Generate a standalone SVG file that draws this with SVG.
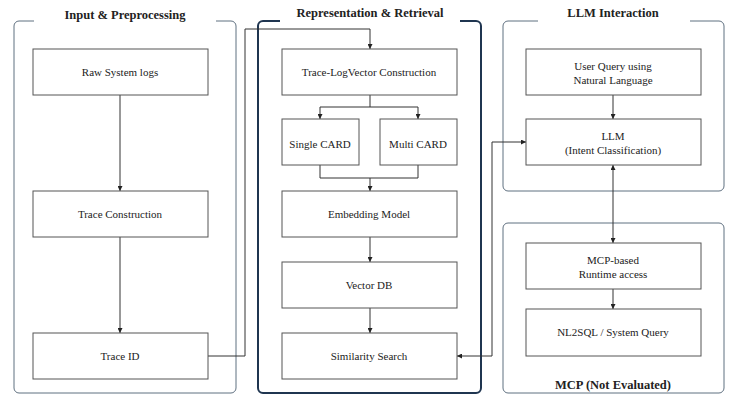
<svg xmlns="http://www.w3.org/2000/svg" width="733" height="403" viewBox="0 0 733 403">
<defs>
<marker id="ah" viewBox="0 0 8 8" refX="8" refY="4" markerWidth="5" markerHeight="5" orient="auto-start-reverse" markerUnits="userSpaceOnUse">
<path d="M0,0 L8,4 L0,8 z" fill="#222"/>
</marker>
<style>
.panel{fill:none;stroke:#5f7080;stroke-width:1}
.panel2{fill:none;stroke:#1f3550;stroke-width:2}
.box{fill:#fff;stroke:#555;stroke-width:1}
.t{font-family:"Liberation Serif","Times New Roman",serif;font-size:11px;fill:#222;text-anchor:middle}
.h{font-family:"Liberation Serif","Times New Roman",serif;font-size:12.5px;font-weight:bold;fill:#222;text-anchor:middle}
.c{fill:none;stroke:#333;stroke-width:1}
.ca{fill:none;stroke:#333;stroke-width:1;marker-end:url(#ah)}
.cb{fill:none;stroke:#333;stroke-width:1;marker-start:url(#ah);marker-end:url(#ah)}
</style>
</defs>
<rect width="733" height="403" fill="#fff"/>

<g id="panel-input">
<rect class="panel" x="14" y="21" width="222" height="372" rx="5"/>
<rect x="34" y="15" width="182" height="10" fill="#fff"/>
<text class="h" x="125" y="19">Input &amp; Preprocessing</text>
</g>
<g id="panel-repr">
<rect class="panel2" x="258" y="21" width="223" height="372" rx="5"/>
<rect x="280" y="15" width="180" height="10" fill="#fff"/>
<text class="h" x="370" y="17">Representation &amp; Retrieval</text>
</g>
<g id="panel-llm">
<rect class="panel" x="503" y="21" width="221" height="170" rx="5"/>
<rect x="538" y="15" width="152" height="10" fill="#fff"/>
<text class="h" x="613" y="17">LLM Interaction</text>
</g>
<g id="panel-mcp">
<rect class="panel" x="503" y="223" width="221" height="170" rx="5"/>
<text class="h" x="613" y="389">MCP (Not Evaluated)</text>
</g>

<g id="connectors">
<path class="ca" d="M120,95 V191"/>
<path class="ca" d="M120,237 V333"/>
<path class="ca" d="M208,356 H245 V29 H370 V49"/>
<path class="c" d="M370,95 V107"/>
<path class="ca" d="M320,107 V119"/>
<path class="ca" d="M418,107 V119"/>
<path class="c" d="M320,107 H418"/>
<path class="c" d="M320,165 V178 H418 V165"/>
<path class="ca" d="M370,178 V191"/>
<path class="ca" d="M370,237 V262"/>
<path class="ca" d="M370,308 V333"/>
<path class="ca" d="M613,95 V119"/>
<path class="cb" d="M613,165 V243"/>
<path class="ca" d="M613,289 V309"/>
<path class="cb" d="M457,356 H492 V142 H526"/>
</g>

<g id="raw-logs"><rect class="box" x="33" y="49" width="175" height="46"/><text class="t" x="120" y="76">Raw System logs</text></g>
<g id="trace-construction"><rect class="box" x="33" y="191" width="175" height="46"/><text class="t" x="120" y="218">Trace Construction</text></g>
<g id="trace-id"><rect class="box" x="33" y="333" width="175" height="46"/><text class="t" x="120" y="360">Trace ID</text></g>

<g id="tracelog-vector"><rect class="box" x="282" y="49" width="175" height="46"/><text class="t" x="369" y="76">Trace-LogVector Construction</text></g>
<g id="single-card"><rect class="box" x="282" y="119" width="77" height="46"/><text class="t" x="320" y="148">Single CARD</text></g>
<g id="multi-card"><rect class="box" x="380" y="119" width="77" height="46"/><text class="t" x="418" y="148">Multi CARD</text></g>
<g id="embedding"><rect class="box" x="282" y="191" width="175" height="46"/><text class="t" x="369" y="218">Embedding Model</text></g>
<g id="vector-db"><rect class="box" x="282" y="262" width="175" height="46"/><text class="t" x="369" y="289">Vector DB</text></g>
<g id="similarity"><rect class="box" x="282" y="333" width="175" height="46"/><text class="t" x="369" y="360">Similarity Search</text></g>

<g id="user-query"><rect class="box" x="526" y="49" width="175" height="46"/><text class="t" x="613" y="70">User Query using</text><text class="t" x="613" y="84">Natural Language</text></g>
<g id="llm"><rect class="box" x="526" y="119" width="175" height="46"/><text class="t" x="613" y="140">LLM</text><text class="t" x="613" y="154">(Intent Classification)</text></g>
<g id="mcp-runtime"><rect class="box" x="526" y="243" width="175" height="46"/><text class="t" x="613" y="264">MCP-based</text><text class="t" x="613" y="278">Runtime access</text></g>
<g id="nl2sql"><rect class="box" x="526" y="309" width="175" height="47"/><text class="t" x="613" y="336">NL2SQL / System Query</text></g>
</svg>
